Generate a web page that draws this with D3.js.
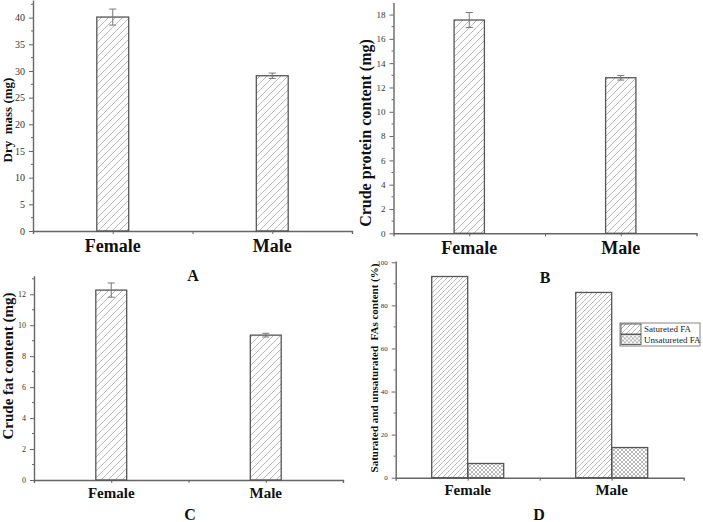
<!DOCTYPE html>
<html>
<head>
<meta charset="utf-8">
<script src="https://cdn.jsdelivr.net/npm/d3@7"></script>
<style>
    body { margin: 0; background: #fff; }
    svg { display: block; font-family: "Liberation Serif", "Times New Roman", serif; }
</style>
</head>
<body>
<div id="chart"></div>
<script>
var categories = ['Female', 'Male'];

var dryMass = [40.1, 29.1];
var dryMassErr = [1.5, 0.5];

var protein = [17.55, 12.8];
var proteinErr = [0.62, 0.19];

var fat = [12.27, 9.36];
var fatErr = [0.46, 0.12];

var seriesNames = ['Satureted FA', 'Unsatureted FA'];
var saturated = [93.4, 86.0];
var unsaturated = [6.6, 14.0];

var panelLetters = ['A', 'B', 'C', 'D'];

var width = 703;
var height = 522;

const svg = d3.select('#chart')
    .append('svg')
    .attr('width', width)
    .attr('height', height)
    .attr('viewBox', [0, 0, width, height]);

var defs = svg.append('defs');

function hatchPattern(id, s) {
    defs.append('pattern')
        .attr('id', id)
        .attr('patternUnits', 'userSpaceOnUse')
        .attr('width', s)
        .attr('height', s)
        .append('path')
        .attr('d', `M-1,1 l2,-2 M0,${s} l${s},${-s} M${s - 1},${s + 1} l2,-2`)
        .attr('stroke', '#a8a8a8')
        .attr('stroke-width', 0.8);
}
hatchPattern('hatch', 7);
hatchPattern('hatchD', 5);

var cross = defs.append('pattern')
    .attr('id', 'cross')
    .attr('patternUnits', 'userSpaceOnUse')
    .attr('width', 4)
    .attr('height', 4);
cross.append('path')
    .attr('d', 'M-1,1 l2,-2 M0,4 l4,-4 M3,5 l2,-2 M-1,3 l2,2 M0,0 l4,4 M3,-1 l2,2')
    .attr('stroke', '#8a8a8a')
    .attr('stroke-width', 0.6);

// one Origin-like panel: x is linear on [0.5, 2.5] with categories at 1 and 2
function panel(o) {
    var x = d3.scaleLinear()
        .domain([0.5, 2.5])
        .range(o.xRange);

    var y = d3.scaleLinear()
        .domain(o.yDomain)
        .range(o.yRange);

    var yTicks = d3.range(0, o.yMax + 0.001, o.yStep);
    var yMinor = d3.range(o.yStep / 2, o.yDomain[1], o.yStep)
        .filter(v => yTicks.indexOf(v) < 0);

    var xAxis = g => g
        .attr('transform', `translate(0,${o.yRange[0]})`)
        .call(d3.axisBottom(x).tickValues([1, 1.5, 2]).tickSize(3).tickFormat(''))
        .call(g => g.select('.domain').attr('stroke', '#666').attr('stroke-width', 1.4))
        .call(g => g.selectAll('.tick line').attr('stroke', '#666'));

    var yAxis = g => g
        .attr('transform', `translate(${o.xRange[0]},0)`)
        .call(d3.axisLeft(y).tickValues(yTicks).tickSize(4).tickSizeOuter(0).tickPadding(4))
        .call(g => g.select('.domain').attr('stroke', '#666').attr('stroke-width', 1.4))
        .call(g => g.selectAll('.tick line').attr('stroke', '#666'))
        .call(g => g.selectAll('.tick text')
            .attr('font-family', '"Liberation Serif", serif')
            .attr('font-size', o.tickFont)
            .attr('fill', '#333'));

    var g = svg.append('g');
    g.append('g').call(xAxis);
    g.append('g').call(yAxis);

    g.append('g')
        .selectAll('line')
        .data(yMinor)
        .join('line')
        .attr('x1', o.xRange[0] - 2)
        .attr('x2', o.xRange[0])
        .attr('y1', d => y(d))
        .attr('y2', d => y(d))
        .attr('stroke', '#666');

    var step = x(2) - x(1);

    o.series.forEach(function (s, si) {
        var bw = step * s.width;
        g.append('g')
            .selectAll('rect')
            .data(s.values)
            .join('rect')
            .attr('x', (d, i) => x(i + 1) + s.offset * step)
            .attr('y', d => y(d))
            .attr('width', bw)
            .attr('height', d => y(0) - y(d))
            .attr('fill', `url(#${s.fill})`)
            .attr('stroke', '#555')
            .attr('stroke-width', 1.3);

        if (s.err) {
            var eb = g.append('g')
                .attr('stroke', '#777')
                .attr('stroke-width', 1);
            s.values.forEach(function (v, i) {
                var cx = x(i + 1) + s.offset * step + bw / 2;
                eb.append('line')
                    .attr('x1', cx).attr('x2', cx)
                    .attr('y1', y(v + s.err[i])).attr('y2', y(v - s.err[i]));
                eb.append('line')
                    .attr('x1', cx - 3.5).attr('x2', cx + 3.5)
                    .attr('y1', y(v + s.err[i])).attr('y2', y(v + s.err[i]));
                eb.append('line')
                    .attr('x1', cx - 3.5).attr('x2', cx + 3.5)
                    .attr('y1', y(v - s.err[i])).attr('y2', y(v - s.err[i]));
            });
        }
    });

    g.append('g')
        .selectAll('text')
        .data(categories)
        .join('text')
        .attr('x', (d, i) => x(i + 1))
        .attr('y', o.catY)
        .attr('text-anchor', 'middle')
        .attr('font-weight', 'bold')
        .attr('font-size', o.catFont)
        .attr('fill', '#111')
        .text(d => d);

    g.append('text')
        .attr('transform', `translate(${o.labelX},${o.labelY}) rotate(-90)`)
        .attr('text-anchor', 'middle')
        .attr('dominant-baseline', 'middle')
        .attr('font-weight', 'bold')
        .attr('font-size', o.labelFont)
        .attr('fill', '#111')
        .style('white-space', 'pre')
        .text(o.label);

    g.append('text')
        .attr('x', o.letter[0])
        .attr('y', o.letter[1])
        .attr('text-anchor', 'middle')
        .attr('font-weight', 'bold')
        .attr('font-size', 16)
        .attr('fill', '#111')
        .text(o.letter[2]);

    return { x: x, y: y, g: g };
}

panel({
    xRange: [33, 352], yDomain: [0, 43.3], yRange: [231, 0], yMax: 40, yStep: 5,
    tickFont: 10, catFont: 18, catY: 252, labelX: 9, labelY: 120, labelFont: 13,
    label: 'Dry  mass (mg)', letter: [193, 281, panelLetters[0]],
    series: [{ values: dryMass, err: dryMassErr, width: 0.2, offset: -0.1, fill: 'hatch' }]
});

panel({
    xRange: [393.5, 696.5], yDomain: [0, 19], yRange: [233.3, 2.4], yMax: 18, yStep: 2,
    tickFont: 9, catFont: 18, catY: 254, labelX: 367, labelY: 133, labelFont: 16,
    label: 'Crude protein content (mg)', letter: [545, 283, panelLetters[1]],
    series: [{ values: protein, err: proteinErr, width: 0.2, offset: -0.1, fill: 'hatch' }]
});

panel({
    xRange: [34, 343], yDomain: [0, 13.2], yRange: [480, 275.7], yMax: 12, yStep: 2,
    tickFont: 8, catFont: 15, catY: 498, labelX: 10, labelY: 366, labelFont: 15,
    label: 'Crude fat content (mg)', letter: [190, 520, panelLetters[2]],
    series: [{ values: fat, err: fatErr, width: 0.2, offset: -0.1, fill: 'hatch' }]
});

var pd = panel({
    xRange: [395.7, 683.7], yDomain: [0, 100.6], yRange: [477.7, 261], yMax: 100, yStep: 20,
    tickFont: 7, catFont: 15, catY: 495, labelX: 375, labelY: 368, labelFont: 11,
    label: 'Saturated and unsaturated  FAs content (%)', letter: [539, 520, panelLetters[3]],
    series: [
        { values: saturated, width: 0.25, offset: -0.25, fill: 'hatchD' },
        { values: unsaturated, width: 0.25, offset: 0, fill: 'cross' }
    ]
});

// legend for panel D
var legend = pd.g.append('g')
    .attr('transform', 'translate(620,323)');
legend.append('rect')
    .attr('width', 80)
    .attr('height', 23)
    .attr('fill', '#fff')
    .attr('stroke', '#666')
    .attr('stroke-width', 0.8);
var item = legend.selectAll('g.item')
    .data(seriesNames)
    .join('g')
    .attr('class', 'item')
    .attr('transform', (d, i) => `translate(1,${1 + i * 10.5})`);
item.append('rect')
    .attr('width', 20)
    .attr('height', 10)
    .attr('fill', (d, i) => i === 0 ? 'url(#hatchD)' : 'url(#cross)')
    .attr('stroke', '#444')
    .attr('stroke-width', 0.8);
item.append('text')
    .attr('x', 23)
    .attr('y', 8)
    .attr('font-size', 9)
    .attr('fill', '#222')
    .text(d => d);
</script>
</body>
</html>
